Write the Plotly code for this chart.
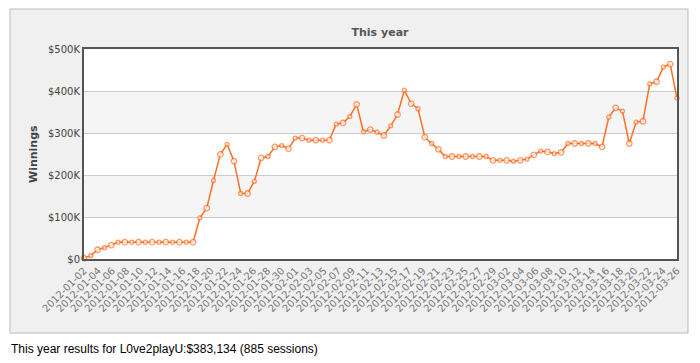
import pandas as pd
import plotly.graph_objects as go

tick_labels = [
    "2012-01-02", "2012-01-04", "2012-01-06", "2012-01-08", "2012-01-10", "2012-01-12",
    "2012-01-14", "2012-01-16", "2012-01-18", "2012-01-20", "2012-01-22", "2012-01-24",
    "2012-01-26", "2012-01-28", "2012-01-30", "2012-02-01", "2012-02-03", "2012-02-05",
    "2012-02-07", "2012-02-09", "2012-02-11", "2012-02-13", "2012-02-15", "2012-02-17",
    "2012-02-19", "2012-02-21", "2012-02-23", "2012-02-25", "2012-02-27", "2012-02-29",
    "2012-03-02", "2012-03-04", "2012-03-06", "2012-03-08", "2012-03-10", "2012-03-12",
    "2012-03-14", "2012-03-16", "2012-03-18", "2012-03-20", "2012-03-22", "2012-03-24",
    "2012-03-26",
]

winnings = [
    2000, 8000, 22000, 27000, 33000, 40000, 40000, 40000, 40000, 40000,
    40000, 40000, 40000, 40000, 40000, 40000, 40000, 98000, 121000, 187000,
    249000, 273000, 233000, 156000, 156000, 185000, 241000, 244000, 267000, 270000,
    263000, 288000, 288000, 283000, 283000, 283000, 283000, 321000, 324000, 339000,
    368000, 303000, 308000, 302000, 294000, 317000, 344000, 402000, 370000, 358000,
    290000, 275000, 261000, 244000, 244000, 244000, 244000, 244000, 244000, 244000,
    235000, 235000, 235000, 233000, 235000, 238000, 248000, 257000, 255000, 251000,
    254000, 275000, 275000, 275000, 275000, 275000, 267000, 338000, 360000, 352000,
    275000, 326000, 328000, 417000, 422000, 457000, 464000, 383134,
]

y_ticks = [0, 100000, 200000, 300000, 400000, 500000]
y_tick_text = ["$0", "$100K", "$200K", "$300K", "$400K", "$500K"]

title_text = "This year"
y_title = "Winnings"
footer = "This year results for L0ve2playU:$383,134 (885 sessions)"

x_vals = pd.date_range(start=tick_labels[0], end=tick_labels[-1], periods=len(winnings))
marker_sizes = [5.5 if i % 2 == 0 else 4 for i in range(len(winnings))]

ORANGE = "#FF6F26"

fig = go.Figure()
fig.add_trace(go.Scatter(
    x=x_vals, y=winnings, mode="lines+markers",
    line=dict(color=ORANGE, width=1.5),
    marker=dict(size=marker_sizes, color="white", line=dict(color=ORANGE, width=1.3)),
    cliponaxis=False,
    showlegend=False,
))

W, H = 700, 363
L, R, T, B = 84, 677, 49, 259
pw, ph = R - L, B - T

def px(x):
    return (x - L) / pw

def py(y):
    return (B - y) / ph

shapes = [
    dict(type="rect", xref="paper", yref="paper", x0=px(10), x1=px(688), y0=py(333), y1=py(9),
         fillcolor="#f0f0f0", line=dict(color="#bbbbbb", width=1), layer="below"),
    dict(type="rect", xref="paper", yref="paper", x0=0, x1=1, y0=0, y1=1,
         fillcolor="white", line=dict(width=0), layer="below"),
]
for lo, hi in [(100000, 200000), (300000, 400000)]:
    shapes.append(dict(type="rect", xref="paper", yref="y", x0=0, x1=1, y0=lo, y1=hi,
                       fillcolor="#f5f5f5", line=dict(width=0), layer="below"))

fig.update_layout(
    width=W, height=H,
    margin=dict(l=L, r=W - R, t=T, b=H - B, pad=0),
    paper_bgcolor="white",
    plot_bgcolor="rgba(0,0,0,0)",
    shapes=shapes,
    title=dict(text="<b>" + title_text + "</b>", x=380 / W, y=1 - 32 / H,
               xanchor="center", yanchor="middle",
               font=dict(family="DejaVu Sans", size=11, color="#555555")),
    annotations=[
        dict(text="<b>" + y_title + "</b>", xref="paper", yref="paper",
             x=px(33), y=0.5, textangle=-90, showarrow=False,
             xanchor="center", yanchor="middle",
             font=dict(family="DejaVu Sans", size=11, color="#444444")),
        dict(text=footer, xref="paper", yref="paper", x=px(9), y=py(349),
             xanchor="left", yanchor="middle", showarrow=False,
             font=dict(family="Liberation Sans", size=12, color="#000000")),
    ],
    xaxis=dict(
        type="date",
        range=[tick_labels[0], tick_labels[-1]],
        tickvals=tick_labels, ticktext=tick_labels,
        tickangle=-45,
        tickfont=dict(family="DejaVu Sans", size=10, color="#777777"),
        showgrid=False, zeroline=False,
        showline=True, linecolor="#555555", linewidth=2, mirror=True,
        ticks="", fixedrange=True,
    ),
    yaxis=dict(
        range=[0, 500000],
        tickvals=y_ticks, ticktext=y_tick_text,
        tickfont=dict(family="DejaVu Sans", size=10, color="#444444"),
        showgrid=True, gridcolor="#cccccc", gridwidth=1,
        zeroline=False,
        showline=True, linecolor="#555555", linewidth=2, mirror=True,
        ticks="", ticklen=3, fixedrange=True,
    ),
)

fig.write_html(
    "out.html",
    config={"displayModeBar": False},
    post_script="document.body.style.margin='0';document.body.style.overflow='hidden';",
)
